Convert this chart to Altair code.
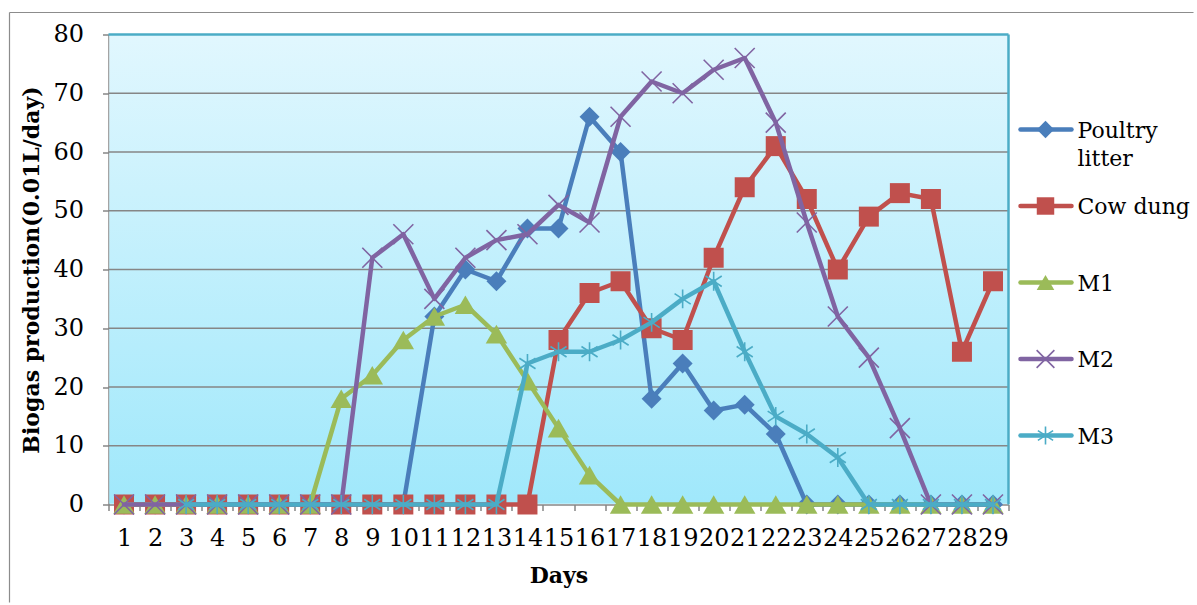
import altair as alt
import pandas as pd

# Daily biogas production for each substrate (units of 0.01 L/day)
days = list(range(1, 30))
poultry_litter = [0, 0, 0, 0, 0, 0, 0, 0, 0, 0, 32, 40, 38, 47, 47, 66, 60, 18, 24, 16,
                  17, 12, 0, 0, 0, 0, 0, 0, 0]
cow_dung = [0, 0, 0, 0, 0, 0, 0, 0, 0, 0, 0, 0, 0, 0, 28, 36, 38, 30, 28, 42,
            54, 61, 52, 40, 49, 53, 52, 26, 38]
m1 = [0, 0, 0, 0, 0, 0, 0, 18, 22, 28, 32, 34, 29, 21, 13, 5, 0, 0, 0, 0,
      0, 0, 0, 0, 0, 0, 0, 0, 0]
m2 = [0, 0, 0, 0, 0, 0, 0, 0, 42, 46, 35, 42, 45, 46, 51, 48, 66, 72, 70, 74,
      76, 65, 48, 32, 25, 13, 0, 0, 0]
m3 = [None, None, 0, 0, 0, 0, 0, 0, 0, 0, 0, 0, 0, 24, 26, 26, 28, 31, 35, 38,
      26, 15, 12, 8, 0, 0, 0, 0, 0]

y_ticks = list(range(0, 81, 10))
grid_values = list(range(10, 80, 10))

series_names = ["Poultry litter", "Cow dung", "M1", "M2", "M3"]
legend_labels = ["Poultry\nlitter", "Cow dung", "M1", "M2", "M3"]
series_values = [poultry_litter, cow_dung, m1, m2, m3]
colors = ["#4a7ebb", "#c0504d", "#9bbb59", "#8064a2", "#4bacc6"]

X_PATH = "M-1,-1L1,1M-1,1L1,-1"
STAR_PATH = "M0,-1L0,1M-0.85,-0.55L0.85,0.55M-0.85,0.55L0.85,-0.55"
shapes = ["diamond", "square", "triangle-up", X_PATH, STAR_PATH]
filled = [True, True, True, False, False]
sizes = [400, 400, 460, 400, 360]
legend_sizes = [300, 320, 360, 300, 280]

rows = []
for name, vals in zip(series_names, series_values):
    for d, v in zip(days, vals):
        if v is not None:
            rows.append({"day": d, "value": v, "series": name})
df = pd.DataFrame(rows)

legend_df = pd.DataFrame({"series": series_names, "label": legend_labels})
grid_df = pd.DataFrame({"value": grid_values})
one_row = pd.DataFrame({"k": [0]})

FONT = "DejaVu Serif"
GRAY = "#868686"
W, H = 900, 470

x_enc = alt.X(
    "day:O",
    scale=alt.Scale(type="band", domain=days, paddingInner=0, paddingOuter=0),
    axis=alt.Axis(
        title="Days", labelAngle=0, tickBand="extent", labelOverlap=False,
        domainColor=GRAY, domainWidth=1.5, tickColor=GRAY, tickWidth=1.5, tickSize=6,
        labelFont=FONT, labelFontSize=24, labelColor="black", labelPadding=16,
        titleFont=FONT, titleFontSize=22, titleFontWeight="bold", titleColor="black",
        titlePadding=15,
    ),
)
y_enc = alt.Y(
    "value:Q",
    scale=alt.Scale(domain=[0, 80], nice=False),
    axis=alt.Axis(
        title="Biogas production(0.01L/day)", values=y_ticks, grid=False,
        domainColor=GRAY, domainWidth=1.5, tickColor=GRAY, tickWidth=1.5, tickSize=6,
        labelFont=FONT, labelFontSize=24, labelColor="black", labelPadding=19,
        titleFont=FONT, titleFontSize=22, titleFontWeight="bold", titleColor="black",
        titlePadding=9,
    ),
)

# Plot-area background with a vertical light-blue gradient
background = alt.Chart(one_row).mark_rect(
    fill=alt.LinearGradient(
        gradient="linear", x1=0, y1=0, x2=0, y2=1,
        stops=[alt.GradientStop(color="#e1f7fe", offset=0),
               alt.GradientStop(color="#a0e8fb", offset=1)],
    )
).encode(x=alt.value(0.75), x2=alt.value(W), y=alt.value(0), y2=alt.value(H - 0.75))

# Horizontal gridlines
grid = alt.Chart(grid_df).mark_rule(color=GRAY, strokeWidth=1.5).encode(
    y=y_enc, x=alt.value(0), x2=alt.value(W)
)

# Each series draws its line and then its markers, in series order
series_layers = []
for name, col, shp, fil, sz in zip(series_names, colors, shapes, filled, sizes):
    base = alt.Chart(df).transform_filter(alt.datum.series == name)
    line = base.mark_line(color=col, strokeWidth=4.5, strokeJoin="round", strokeCap="round").encode(
        x=x_enc, y=y_enc
    )
    if fil:
        pts = base.mark_point(filled=True, color=col, opacity=1, shape=shp, size=sz)
    else:
        pts = base.mark_point(filled=False, color=col, opacity=1, shape=shp, size=sz, strokeWidth=1.6)
    series_layers += [line, pts.encode(x=x_enc, y=y_enc)]

# Plot-area border (top and right) and the outer chart frame
border_top = alt.Chart(one_row).mark_rule(color="#4bacc6", strokeWidth=2.5).encode(
    x=alt.value(0), x2=alt.value(W), y=alt.value(0)
)
border_right = alt.Chart(one_row).mark_rule(color="#4bacc6", strokeWidth=2.5).encode(
    x=alt.value(W), y=alt.value(0), y2=alt.value(H)
)
frame_left = alt.Chart(one_row).mark_rule(color="#8c8c8c", strokeWidth=1.2).encode(
    x=alt.value(-99), y=alt.value(-22), y2=alt.value(568)
)
frame_top = alt.Chart(one_row).mark_rule(color="#8c8c8c", strokeWidth=1.2).encode(
    x=alt.value(-99), x2=alt.value(1085), y=alt.value(-22)
)

main = alt.layer(background, grid, *series_layers, border_top, border_right, frame_left, frame_top)

# Legend to the right of the plot
leg_y = alt.Y("series:N", scale=alt.Scale(type="point", domain=series_names, range=[95, 401], padding=0), axis=None)
leg_color = alt.Color("series:N", scale=alt.Scale(domain=series_names, range=colors), legend=None)
leg_shape = alt.Shape("series:N", scale=alt.Scale(domain=series_names, range=shapes), legend=None)
leg_size = alt.Size("series:N", scale=alt.Scale(domain=series_names, range=legend_sizes), legend=None)
leg_base = alt.Chart(legend_df)
leg_line = leg_base.mark_rule(strokeWidth=4.5, strokeCap="round").encode(
    x=alt.value(912), x2=alt.value(963), y=leg_y, color=leg_color
)
leg_filled = leg_base.transform_filter(
    alt.FieldOneOfPredicate(field="series", oneOf=series_names[:3])
).mark_point(filled=True, opacity=1).encode(
    x=alt.value(937), y=leg_y, color=leg_color, shape=leg_shape, size=leg_size
)
leg_open = leg_base.transform_filter(
    alt.FieldOneOfPredicate(field="series", oneOf=series_names[3:])
).mark_point(filled=False, opacity=1, strokeWidth=1.6).encode(
    x=alt.value(937), y=leg_y, color=leg_color, shape=leg_shape, size=leg_size
)
leg_text = leg_base.mark_text(
    align="left", baseline="alphabetic", dy=8, font=FONT, fontSize=22,
    lineBreak="\n", lineHeight=28, color="black"
).encode(x=alt.value(969), y=leg_y, text="label:N")

legend = alt.layer(leg_line, leg_filled, leg_open, leg_text)

chart = alt.layer(main, legend).resolve_scale(
    y="independent", color="independent", shape="independent", size="independent"
).properties(
    width=W, height=H,
    padding={"left": 8.5, "top": 11.5, "right": 0, "bottom": 0},
).configure_view(stroke=None)

chart.save("out.html", embed_options={"renderer": "svg", "actions": False})
